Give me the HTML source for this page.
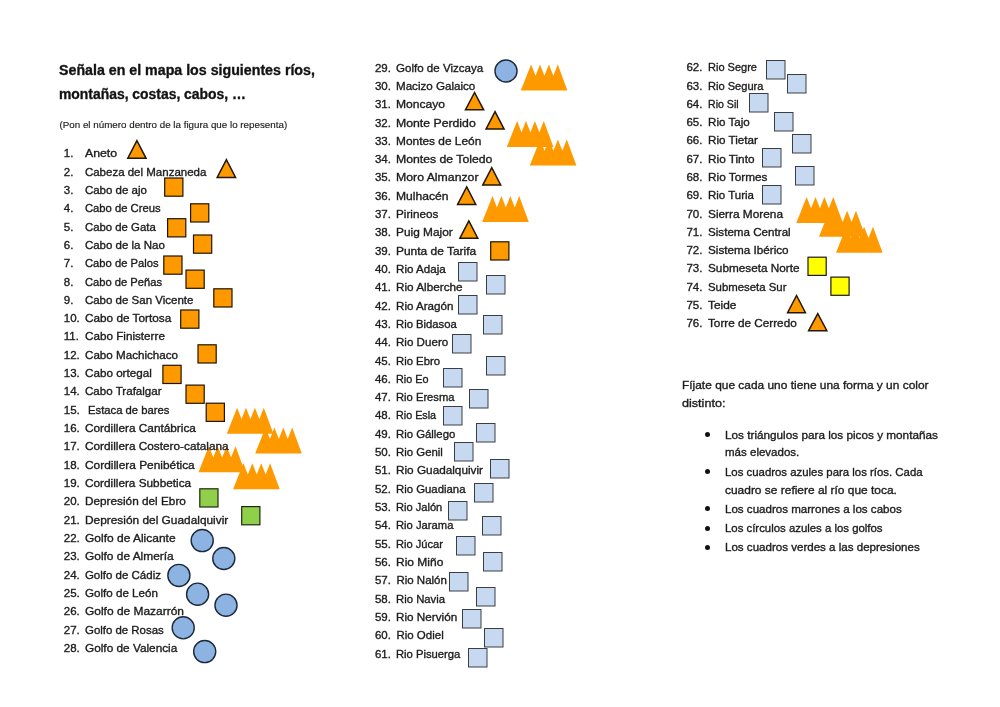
<!DOCTYPE html>
<html><head><meta charset="utf-8"><title>Señala en el mapa</title>
<style>
html,body{margin:0;padding:0;background:#fff;}
body{width:1000px;height:707px;position:relative;overflow:hidden;font-family:"Liberation Sans",sans-serif;color:#1c1c1c;}
#pg{position:absolute;left:0;top:0;width:1000px;height:707px;filter:blur(0.3px);}
svg.shapes{position:absolute;left:0;top:0;}
.t{position:absolute;white-space:pre;line-height:1;transform-origin:0 0;-webkit-text-stroke:0.35px #1c1c1c;}
.n{font-size:11.5px;}
.title{font-size:14.1px;font-weight:bold;color:#111;}
.sub{font-size:9.8px;-webkit-text-stroke-width:0.15px;}
.p{font-size:11.7px;}
.dot{position:absolute;width:5px;height:5px;border-radius:50%;background:#111;}
</style></head><body><div id="pg">

<svg class="shapes" width="1000" height="707" viewBox="0 0 1000 707">
<polygon points="127.73,158.35 136.9,140.63 146.07,158.35" fill="#FF9900" stroke="#231705" stroke-width="1.5" stroke-linejoin="miter" stroke-miterlimit="10"/>
<polygon points="217.23,177.45 226.4,159.73 235.57,177.45" fill="#FF9900" stroke="#231705" stroke-width="1.5" stroke-linejoin="miter" stroke-miterlimit="10"/>
<polygon points="465.44,109.85 474.55,92.51 483.66,109.85" fill="#FF9900" stroke="#231705" stroke-width="1.5" stroke-linejoin="miter" stroke-miterlimit="10"/>
<polygon points="486.03,129.05 495.05,111.63 504.07,129.05" fill="#FF9900" stroke="#231705" stroke-width="1.5" stroke-linejoin="miter" stroke-miterlimit="10"/>
<polygon points="482.83,184.95 491.75,167.73 500.67,184.95" fill="#FF9900" stroke="#231705" stroke-width="1.5" stroke-linejoin="miter" stroke-miterlimit="10"/>
<polygon points="457.63,204.45 466.7,186.84 475.77,204.45" fill="#FF9900" stroke="#231705" stroke-width="1.5" stroke-linejoin="miter" stroke-miterlimit="10"/>
<polygon points="459.93,238.15 468.85,220.84 477.77,238.15" fill="#FF9900" stroke="#231705" stroke-width="1.5" stroke-linejoin="miter" stroke-miterlimit="10"/>
<polygon points="787.64,312.65 796.55,295.52 805.46,312.65" fill="#FF9900" stroke="#231705" stroke-width="1.5" stroke-linejoin="miter" stroke-miterlimit="10"/>
<polygon points="808.65,330.65 817.75,313.69 826.85,330.65" fill="#FF9900" stroke="#231705" stroke-width="1.5" stroke-linejoin="miter" stroke-miterlimit="10"/>
<rect x="164.7" y="178" width="18.2" height="18.2" fill="#FF9900" stroke="#1e1405" stroke-width="1.2"/>
<rect x="190.6" y="203.8" width="18.2" height="18.2" fill="#FF9900" stroke="#1e1405" stroke-width="1.2"/>
<rect x="167.6" y="218.7" width="18.2" height="18.2" fill="#FF9900" stroke="#1e1405" stroke-width="1.2"/>
<rect x="193.5" y="235" width="18.2" height="18.2" fill="#FF9900" stroke="#1e1405" stroke-width="1.2"/>
<rect x="163.8" y="256" width="18.2" height="18.2" fill="#FF9900" stroke="#1e1405" stroke-width="1.2"/>
<rect x="186" y="270.1" width="18.2" height="18.2" fill="#FF9900" stroke="#1e1405" stroke-width="1.2"/>
<rect x="213.8" y="288.8" width="18.2" height="18.2" fill="#FF9900" stroke="#1e1405" stroke-width="1.2"/>
<rect x="180.7" y="310" width="18.2" height="18.2" fill="#FF9900" stroke="#1e1405" stroke-width="1.2"/>
<rect x="198" y="344.8" width="18.2" height="18.2" fill="#FF9900" stroke="#1e1405" stroke-width="1.2"/>
<rect x="162.9" y="365.3" width="18.2" height="18.2" fill="#FF9900" stroke="#1e1405" stroke-width="1.2"/>
<rect x="186" y="385.1" width="18.2" height="18.2" fill="#FF9900" stroke="#1e1405" stroke-width="1.2"/>
<rect x="206.2" y="403.2" width="18.2" height="18.2" fill="#FF9900" stroke="#1e1405" stroke-width="1.2"/>
<rect x="490.7" y="241.8" width="18.2" height="18.2" fill="#FF9900" stroke="#1e1405" stroke-width="1.2"/>
<rect x="199.8" y="488.8" width="18.2" height="18.2" fill="#8FCF4A" stroke="#1e2a10" stroke-width="1.2"/>
<rect x="241.7" y="506.6" width="18.2" height="18.2" fill="#8FCF4A" stroke="#1e2a10" stroke-width="1.2"/>
<rect x="808" y="257.2" width="18.2" height="18.2" fill="#FFFF00" stroke="#1a1a1a" stroke-width="1.2"/>
<rect x="830.9" y="277.1" width="18.2" height="18.2" fill="#FFFF00" stroke="#1a1a1a" stroke-width="1.2"/>
<rect x="458.5" y="262.5" width="18.5" height="18.5" fill="#C6D9F1" stroke="#3a3e46" stroke-width="1.0"/>
<rect x="486.5" y="275.5" width="18.5" height="18.5" fill="#C6D9F1" stroke="#3a3e46" stroke-width="1.0"/>
<rect x="458.5" y="295.5" width="18.5" height="18.5" fill="#C6D9F1" stroke="#3a3e46" stroke-width="1.0"/>
<rect x="483.5" y="315.5" width="18.5" height="18.5" fill="#C6D9F1" stroke="#3a3e46" stroke-width="1.0"/>
<rect x="452.5" y="334.5" width="18.5" height="18.5" fill="#C6D9F1" stroke="#3a3e46" stroke-width="1.0"/>
<rect x="486.5" y="356.5" width="18.5" height="18.5" fill="#C6D9F1" stroke="#3a3e46" stroke-width="1.0"/>
<rect x="443.5" y="368.5" width="18.5" height="18.5" fill="#C6D9F1" stroke="#3a3e46" stroke-width="1.0"/>
<rect x="469.5" y="389.5" width="18.5" height="18.5" fill="#C6D9F1" stroke="#3a3e46" stroke-width="1.0"/>
<rect x="443.5" y="406.5" width="18.5" height="18.5" fill="#C6D9F1" stroke="#3a3e46" stroke-width="1.0"/>
<rect x="476.5" y="423.5" width="18.5" height="18.5" fill="#C6D9F1" stroke="#3a3e46" stroke-width="1.0"/>
<rect x="454.5" y="442.5" width="18.5" height="18.5" fill="#C6D9F1" stroke="#3a3e46" stroke-width="1.0"/>
<rect x="490.5" y="459.5" width="18.5" height="18.5" fill="#C6D9F1" stroke="#3a3e46" stroke-width="1.0"/>
<rect x="474.5" y="483.5" width="18.5" height="18.5" fill="#C6D9F1" stroke="#3a3e46" stroke-width="1.0"/>
<rect x="448.5" y="501.5" width="18.5" height="18.5" fill="#C6D9F1" stroke="#3a3e46" stroke-width="1.0"/>
<rect x="482.5" y="516.5" width="18.5" height="18.5" fill="#C6D9F1" stroke="#3a3e46" stroke-width="1.0"/>
<rect x="456.5" y="536.5" width="18.5" height="18.5" fill="#C6D9F1" stroke="#3a3e46" stroke-width="1.0"/>
<rect x="483.5" y="552.5" width="18.5" height="18.5" fill="#C6D9F1" stroke="#3a3e46" stroke-width="1.0"/>
<rect x="449.5" y="572.5" width="18.5" height="18.5" fill="#C6D9F1" stroke="#3a3e46" stroke-width="1.0"/>
<rect x="476.5" y="587.5" width="18.5" height="18.5" fill="#C6D9F1" stroke="#3a3e46" stroke-width="1.0"/>
<rect x="462.5" y="609.5" width="18.5" height="18.5" fill="#C6D9F1" stroke="#3a3e46" stroke-width="1.0"/>
<rect x="484.5" y="628.5" width="18.5" height="18.5" fill="#C6D9F1" stroke="#3a3e46" stroke-width="1.0"/>
<rect x="468.5" y="648.5" width="18.5" height="18.5" fill="#C6D9F1" stroke="#3a3e46" stroke-width="1.0"/>
<rect x="766.5" y="60.5" width="18.5" height="18.5" fill="#C6D9F1" stroke="#3a3e46" stroke-width="1.0"/>
<rect x="787.5" y="74.5" width="18.5" height="18.5" fill="#C6D9F1" stroke="#3a3e46" stroke-width="1.0"/>
<rect x="749.5" y="93.5" width="18.5" height="18.5" fill="#C6D9F1" stroke="#3a3e46" stroke-width="1.0"/>
<rect x="774.5" y="112.5" width="18.5" height="18.5" fill="#C6D9F1" stroke="#3a3e46" stroke-width="1.0"/>
<rect x="792.5" y="134.5" width="18.5" height="18.5" fill="#C6D9F1" stroke="#3a3e46" stroke-width="1.0"/>
<rect x="762.5" y="148.5" width="18.5" height="18.5" fill="#C6D9F1" stroke="#3a3e46" stroke-width="1.0"/>
<rect x="795.5" y="166.5" width="18.5" height="18.5" fill="#C6D9F1" stroke="#3a3e46" stroke-width="1.0"/>
<rect x="762.5" y="185.5" width="18.5" height="18.5" fill="#C6D9F1" stroke="#3a3e46" stroke-width="1.0"/>
<circle cx="202.2" cy="540.6" r="11.05" fill="#8DB3E2" stroke="#1d2a3a" stroke-width="1.4"/>
<circle cx="223.8" cy="558.5" r="11.05" fill="#8DB3E2" stroke="#1d2a3a" stroke-width="1.4"/>
<circle cx="178.9" cy="575.4" r="11.05" fill="#8DB3E2" stroke="#1d2a3a" stroke-width="1.4"/>
<circle cx="197.6" cy="594.2" r="11.05" fill="#8DB3E2" stroke="#1d2a3a" stroke-width="1.4"/>
<circle cx="226" cy="605.2" r="11.05" fill="#8DB3E2" stroke="#1d2a3a" stroke-width="1.4"/>
<circle cx="183.2" cy="627.8" r="11.05" fill="#8DB3E2" stroke="#1d2a3a" stroke-width="1.4"/>
<circle cx="204.7" cy="651.6" r="11.05" fill="#8DB3E2" stroke="#1d2a3a" stroke-width="1.4"/>
<circle cx="506" cy="71" r="11.05" fill="#8DB3E2" stroke="#1d2a3a" stroke-width="1.4"/>
<path d="M226.8,433.75 L237.1,407.75 L241.55,419.05 L246,407.75 L250.45,419.05 L254.9,407.75 L259.35,419.05 L263.8,407.75 L273.4,433.75Z M255.2,453.6 L265.5,427.6 L269.95,438.9 L274.4,427.6 L278.85,438.9 L283.3,427.6 L287.75,438.9 L292.2,427.6 L301.8,453.6Z M198.5,472.2 L208.8,446.2 L213.25,457.5 L217.7,446.2 L222.15,457.5 L226.6,446.2 L231.05,457.5 L235.5,446.2 L245.1,472.2Z M233.1,489.2 L243.4,463.2 L247.85,474.5 L252.3,463.2 L256.75,474.5 L261.2,463.2 L265.65,474.5 L270.1,463.2 L279.7,489.2Z M520.8,90.5 L531.1,64.5 L535.55,75.8 L540,64.5 L544.45,75.8 L548.9,64.5 L553.35,75.8 L557.8,64.5 L567.4,90.5Z M506.8,146.9 L517.1,120.9 L521.55,132.2 L526,120.9 L530.45,132.2 L534.9,120.9 L539.35,132.2 L543.8,120.9 L553.4,146.9Z M529.8,165.4 L540.1,139.4 L544.55,150.7 L549,139.4 L553.45,150.7 L557.9,139.4 L562.35,150.7 L566.8,139.4 L576.4,165.4Z M482.2,222.1 L492.5,196.1 L496.95,207.4 L501.4,196.1 L505.85,207.4 L510.3,196.1 L514.75,207.4 L519.2,196.1 L528.8,222.1Z M796.3,223 L806.6,197 L811.05,208.3 L815.5,197 L819.95,208.3 L824.4,197 L828.85,208.3 L833.3,197 L842.9,223Z M819,236.8 L829.3,210.8 L833.75,222.1 L838.2,210.8 L842.65,222.1 L847.1,210.8 L851.55,222.1 L856,210.8 L865.6,236.8Z M836,252.8 L846.3,226.8 L850.75,238.1 L855.2,226.8 L859.65,238.1 L864.1,226.8 L868.55,238.1 L873,226.8 L882.6,252.8Z" fill="#FF9900" fill-rule="nonzero"/>
</svg>
<div class="t title" style="left:59px;top:63px;transform:scaleX(1.0083)">Señala en el mapa los siguientes ríos,</div>
<div class="t title" style="left:59px;top:87px;transform:scaleX(0.9861)">montañas, costas, cabos, …</div>
<div class="t sub" style="left:59.5px;top:120px">(Pon el número dentro de la figura que lo repesenta)</div>
<div class="t n" style="left:63.8px;top:148px">1.</div>
<div class="t n" style="left:84.9px;top:148px;transform:scaleX(1.0682)">Aneto</div>
<div class="t n" style="left:63.8px;top:167px">2.</div>
<div class="t n" style="left:84.9px;top:167px">Cabeza del Manzaneda</div>
<div class="t n" style="left:63.8px;top:185px">3.</div>
<div class="t n" style="left:84.9px;top:185px">Cabo de ajo</div>
<div class="t n" style="left:63.8px;top:203px">4.</div>
<div class="t n" style="left:84.9px;top:203px;transform:scaleX(0.9774)">Cabo de Creus</div>
<div class="t n" style="left:63.8px;top:222px">5.</div>
<div class="t n" style="left:84.9px;top:222px;transform:scaleX(0.9873)">Cabo de Gata</div>
<div class="t n" style="left:63.8px;top:240px">6.</div>
<div class="t n" style="left:84.9px;top:240px">Cabo de la Nao</div>
<div class="t n" style="left:63.8px;top:258px">7.</div>
<div class="t n" style="left:84.9px;top:258px;transform:scaleX(0.9743)">Cabo de Palos</div>
<div class="t n" style="left:63.8px;top:277px">8.</div>
<div class="t n" style="left:84.9px;top:277px;transform:scaleX(0.9712)">Cabo de Peñas</div>
<div class="t n" style="left:63.8px;top:295px">9.</div>
<div class="t n" style="left:84.9px;top:295px">Cabo de San Vicente</div>
<div class="t n" style="left:63.8px;top:313px">10.</div>
<div class="t n" style="left:84.9px;top:313px;transform:scaleX(1.0239)">Cabo de Tortosa</div>
<div class="t n" style="left:63.8px;top:331px">11.</div>
<div class="t n" style="left:84.9px;top:331px;transform:scaleX(1.0164)">Cabo Finisterre</div>
<div class="t n" style="left:63.8px;top:350px">12.</div>
<div class="t n" style="left:84.9px;top:350px;transform:scaleX(1.0104)">Cabo Machichaco</div>
<div class="t n" style="left:63.8px;top:368px">13.</div>
<div class="t n" style="left:84.9px;top:368px;transform:scaleX(1.0144)">Cabo ortegal</div>
<div class="t n" style="left:63.8px;top:386px">14.</div>
<div class="t n" style="left:84.9px;top:386px;transform:scaleX(1.0069)">Cabo Trafalgar</div>
<div class="t n" style="left:63.8px;top:405px">15.</div>
<div class="t n" style="left:88.3px;top:405px;transform:scaleX(0.9794)">Estaca de bares</div>
<div class="t n" style="left:63.8px;top:423px">16.</div>
<div class="t n" style="left:84.9px;top:423px;transform:scaleX(1.0266)">Cordillera Cantábrica</div>
<div class="t n" style="left:63.8px;top:441px">17.</div>
<div class="t n" style="left:84.9px;top:441px;transform:scaleX(1.0258)">Cordillera Costero-catalana</div>
<div class="t n" style="left:63.8px;top:460px">18.</div>
<div class="t n" style="left:84.9px;top:460px;transform:scaleX(1.0337)">Cordillera Penibética</div>
<div class="t n" style="left:63.8px;top:478px">19.</div>
<div class="t n" style="left:84.9px;top:478px;transform:scaleX(1.0244)">Cordillera Subbetica</div>
<div class="t n" style="left:63.8px;top:496px">20.</div>
<div class="t n" style="left:84.9px;top:496px;transform:scaleX(1.0249)">Depresión del Ebro</div>
<div class="t n" style="left:63.8px;top:515px">21.</div>
<div class="t n" style="left:84.9px;top:515px;transform:scaleX(1.0330)">Depresión del Guadalquivir</div>
<div class="t n" style="left:63.8px;top:533px">22.</div>
<div class="t n" style="left:84.9px;top:533px;transform:scaleX(1.0420)">Golfo de Alicante</div>
<div class="t n" style="left:63.8px;top:551px">23.</div>
<div class="t n" style="left:84.9px;top:551px;transform:scaleX(1.0354)">Golfo de Almería</div>
<div class="t n" style="left:63.8px;top:570px">24.</div>
<div class="t n" style="left:84.9px;top:570px">Golfo de Cádiz</div>
<div class="t n" style="left:63.8px;top:588px">25.</div>
<div class="t n" style="left:84.9px;top:588px;transform:scaleX(1.0089)">Golfo de León</div>
<div class="t n" style="left:63.8px;top:606px">26.</div>
<div class="t n" style="left:84.9px;top:606px;transform:scaleX(1.0394)">Golfo de Mazarrón</div>
<div class="t n" style="left:63.8px;top:625px">27.</div>
<div class="t n" style="left:84.9px;top:625px;transform:scaleX(0.9928)">Golfo de Rosas</div>
<div class="t n" style="left:63.8px;top:643px">28.</div>
<div class="t n" style="left:84.9px;top:643px;transform:scaleX(1.0262)">Golfo de Valencia</div>
<div class="t n" style="left:374.9px;top:63px">29.</div>
<div class="t n" style="left:396.4px;top:63px;transform:scaleX(1.0054)">Golfo de Vizcaya</div>
<div class="t n" style="left:374.9px;top:81px">30.</div>
<div class="t n" style="left:396.4px;top:81px;transform:scaleX(1.0087)">Macizo Galaico</div>
<div class="t n" style="left:374.9px;top:99px">31.</div>
<div class="t n" style="left:396.4px;top:99px;transform:scaleX(1.0521)">Moncayo</div>
<div class="t n" style="left:374.9px;top:118px">32.</div>
<div class="t n" style="left:396.4px;top:118px;transform:scaleX(1.0656)">Monte Perdido</div>
<div class="t n" style="left:374.9px;top:136px">33.</div>
<div class="t n" style="left:396.4px;top:136px;transform:scaleX(1.0342)">Montes de León</div>
<div class="t n" style="left:374.9px;top:154px">34.</div>
<div class="t n" style="left:396.4px;top:154px;transform:scaleX(1.0632)">Montes de Toledo</div>
<div class="t n" style="left:374.9px;top:172px">35.</div>
<div class="t n" style="left:396.4px;top:172px;transform:scaleX(1.0668)">Moro Almanzor</div>
<div class="t n" style="left:374.9px;top:191px">36.</div>
<div class="t n" style="left:396.4px;top:191px;transform:scaleX(1.0529)">Mulhacén</div>
<div class="t n" style="left:374.9px;top:209px">37.</div>
<div class="t n" style="left:396.4px;top:209px;transform:scaleX(1.0181)">Pirineos</div>
<div class="t n" style="left:374.9px;top:227px">38.</div>
<div class="t n" style="left:396.4px;top:227px;transform:scaleX(1.0315)">Puig Major</div>
<div class="t n" style="left:374.9px;top:246px">39.</div>
<div class="t n" style="left:396.4px;top:246px;transform:scaleX(1.0395)">Punta de Tarifa</div>
<div class="t n" style="left:374.9px;top:264px">40.</div>
<div class="t n" style="left:396.4px;top:264px;transform:scaleX(1.0093)">Rio Adaja</div>
<div class="t n" style="left:374.9px;top:282px">41.</div>
<div class="t n" style="left:396.4px;top:282px;transform:scaleX(1.0214)">Rio Alberche</div>
<div class="t n" style="left:374.9px;top:301px">42.</div>
<div class="t n" style="left:396.4px;top:301px;transform:scaleX(1.0088)">Rio Aragón</div>
<div class="t n" style="left:374.9px;top:319px">43.</div>
<div class="t n" style="left:396.4px;top:319px;transform:scaleX(0.9803)">Rio Bidasoa</div>
<div class="t n" style="left:374.9px;top:337px">44.</div>
<div class="t n" style="left:396.4px;top:337px;transform:scaleX(1.0082)">Rio Duero</div>
<div class="t n" style="left:374.9px;top:356px">45.</div>
<div class="t n" style="left:396.4px;top:356px;transform:scaleX(0.9833)">Rio Ebro</div>
<div class="t n" style="left:374.9px;top:374px">46.</div>
<div class="t n" style="left:396.4px;top:374px;transform:scaleX(0.9417)">Rio Eo</div>
<div class="t n" style="left:374.9px;top:392px">47.</div>
<div class="t n" style="left:396.4px;top:392px;transform:scaleX(0.9736)">Rio Eresma</div>
<div class="t n" style="left:374.9px;top:410px">48.</div>
<div class="t n" style="left:396.4px;top:410px;transform:scaleX(0.9361)">Rio Esla</div>
<div class="t n" style="left:374.9px;top:429px">49.</div>
<div class="t n" style="left:396.4px;top:429px;transform:scaleX(0.9869)">Rio Gállego</div>
<div class="t n" style="left:374.9px;top:447px">50.</div>
<div class="t n" style="left:396.4px;top:447px;transform:scaleX(0.9916)">Rio Genil</div>
<div class="t n" style="left:374.9px;top:465px">51.</div>
<div class="t n" style="left:396.4px;top:465px;transform:scaleX(1.0233)">Rio Guadalquivir</div>
<div class="t n" style="left:374.9px;top:484px">52.</div>
<div class="t n" style="left:396.4px;top:484px;transform:scaleX(0.9881)">Rio Guadiana</div>
<div class="t n" style="left:374.9px;top:502px">53.</div>
<div class="t n" style="left:396.4px;top:502px;transform:scaleX(0.9657)">Rio Jalón</div>
<div class="t n" style="left:374.9px;top:520px">54.</div>
<div class="t n" style="left:396.4px;top:520px;transform:scaleX(0.9760)">Rio Jarama</div>
<div class="t n" style="left:374.9px;top:539px">55.</div>
<div class="t n" style="left:396.4px;top:539px;transform:scaleX(0.9655)">Rio Júcar</div>
<div class="t n" style="left:374.9px;top:557px">56.</div>
<div class="t n" style="left:396.4px;top:557px;transform:scaleX(1.0445)">Rio Miño</div>
<div class="t n" style="left:374.9px;top:575px">57.</div>
<div class="t n" style="left:396.4px;top:575px">Rio Nalón</div>
<div class="t n" style="left:374.9px;top:594px">58.</div>
<div class="t n" style="left:396.4px;top:594px;transform:scaleX(0.9847)">Rio Navia</div>
<div class="t n" style="left:374.9px;top:612px">59.</div>
<div class="t n" style="left:396.4px;top:612px;transform:scaleX(1.0187)">Rio Nervión</div>
<div class="t n" style="left:374.9px;top:630px">60.</div>
<div class="t n" style="left:396.4px;top:630px">Rio Odiel</div>
<div class="t n" style="left:374.9px;top:649px">61.</div>
<div class="t n" style="left:396.4px;top:649px;transform:scaleX(0.9765)">Rio Pisuerga</div>
<div class="t n" style="left:686.4px;top:62px">62.</div>
<div class="t n" style="left:708px;top:62px;transform:scaleX(0.9581)">Rio Segre</div>
<div class="t n" style="left:686.4px;top:81px">63.</div>
<div class="t n" style="left:708px;top:81px;transform:scaleX(0.9644)">Rio Segura</div>
<div class="t n" style="left:686.4px;top:99px">64.</div>
<div class="t n" style="left:708px;top:99px;transform:scaleX(0.9207)">Rio Sil</div>
<div class="t n" style="left:686.4px;top:117px">65.</div>
<div class="t n" style="left:708px;top:117px;transform:scaleX(1.0086)">Rio Tajo</div>
<div class="t n" style="left:686.4px;top:135px">66.</div>
<div class="t n" style="left:708px;top:135px;transform:scaleX(1.0141)">Rio Tietar</div>
<div class="t n" style="left:686.4px;top:154px">67.</div>
<div class="t n" style="left:708px;top:154px;transform:scaleX(1.0247)">Rio Tinto</div>
<div class="t n" style="left:686.4px;top:172px">68.</div>
<div class="t n" style="left:708px;top:172px;transform:scaleX(1.0268)">Rio Tormes</div>
<div class="t n" style="left:686.4px;top:190px">69.</div>
<div class="t n" style="left:708px;top:190px">Rio Turia</div>
<div class="t n" style="left:686.4px;top:209px">70.</div>
<div class="t n" style="left:708px;top:209px;transform:scaleX(1.0292)">Sierra Morena</div>
<div class="t n" style="left:686.4px;top:227px">71.</div>
<div class="t n" style="left:708px;top:227px;transform:scaleX(1.0109)">Sistema Central</div>
<div class="t n" style="left:686.4px;top:245px">72.</div>
<div class="t n" style="left:708px;top:245px;transform:scaleX(1.0169)">Sistema Ibérico</div>
<div class="t n" style="left:686.4px;top:263px">73.</div>
<div class="t n" style="left:708px;top:263px;transform:scaleX(1.0224)">Submeseta Norte</div>
<div class="t n" style="left:686.4px;top:282px">74.</div>
<div class="t n" style="left:708px;top:282px;transform:scaleX(0.9903)">Submeseta Sur</div>
<div class="t n" style="left:686.4px;top:300px">75.</div>
<div class="t n" style="left:708px;top:300px;transform:scaleX(1.0329)">Teide</div>
<div class="t n" style="left:686.4px;top:318px">76.</div>
<div class="t n" style="left:708px;top:318px;transform:scaleX(1.0204)">Torre de Cerredo</div>
<div class="t p" style="left:682.4px;top:379px;transform:scaleX(1.0200)">Fíjate que cada uno tiene una forma y un color</div>
<div class="t p" style="left:682.4px;top:397px;transform:scaleX(1.0789)">distinto:</div>
<div class="t p" style="left:725.4px;top:429px;transform:scaleX(1.0051)">Los triángulos para los picos y montañas</div>
<div class="dot" style="left:704.5px;top:432px"></div>
<div class="t p" style="left:725.4px;top:446px;transform:scaleX(0.9862)">más elevados.</div>
<div class="t p" style="left:725.4px;top:466px;transform:scaleX(0.9747)">Los cuadros azules para los ríos. Cada</div>
<div class="dot" style="left:704.5px;top:468.9px"></div>
<div class="t p" style="left:725.4px;top:484px;transform:scaleX(1.0217)">cuadro se refiere al río que toca.</div>
<div class="t p" style="left:725.4px;top:503px;transform:scaleX(0.9891)">Los cuadros marrones a los cabos</div>
<div class="dot" style="left:704.5px;top:506.2px"></div>
<div class="t p" style="left:725.4px;top:522px;transform:scaleX(0.9739)">Los círculos azules a los golfos</div>
<div class="dot" style="left:704.5px;top:525.7px"></div>
<div class="t p" style="left:725.4px;top:541px;transform:scaleX(0.9890)">Los cuadros verdes a las depresiones</div>
<div class="dot" style="left:704.5px;top:544.7px"></div>
</div></body></html>
